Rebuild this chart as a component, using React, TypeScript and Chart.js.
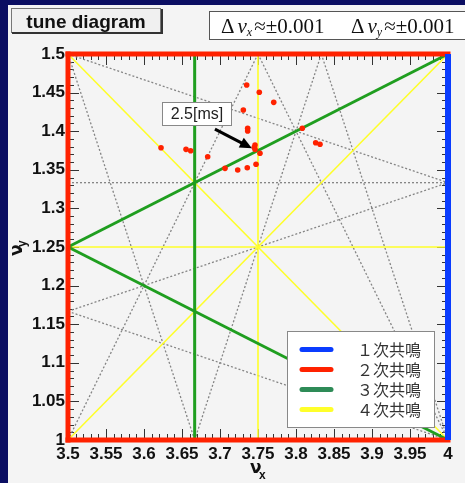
import React, { useEffect, useRef } from "react";
import { Chart, registerables } from "chart.js";

Chart.register(...registerables);

// ---- axis ranges / ticks ----
const xMin = 3.5;
const xMax = 4.0;
const yMin = 1.0;
const yMax = 1.5;
const majorStep = 0.05;
const minorDivisions = 5;

// ---- measured tunes (red dots) ----
const tuneNuX = [
  3.7351, 3.7517, 3.7707, 3.7307, 3.7364, 3.7364, 3.8083, 3.8259, 3.8316, 3.6224,
  3.6553, 3.6614, 3.7461, 3.7451, 3.7461, 3.7526, 3.6838, 3.7066, 3.7233, 3.7359,
  3.7474,
];
const tuneNuY = [
  1.4598, 1.4504, 1.4374, 1.4275, 1.4038, 1.4003, 1.4038, 1.3851, 1.383, 1.3786,
  1.3765, 1.3747, 1.3821, 1.3791, 1.3765, 1.3714, 1.367, 1.3519, 1.3497, 1.3527,
  1.3571,
];

// ---- resonance lines: [m, n, p] meaning m*νx + n*νy = p ----
const firstOrderLines = [[1, 0, 4]];
const secondOrderLines = [[2, 0, 7], [0, 2, 3], [0, 2, 2]];
const thirdOrderLines = [[3, 0, 11], [1, -2, 1], [1, 2, 6]];
const fourthOrderLines = [[4, 0, 15], [0, 4, 5], [2, 2, 10], [2, -2, 5]];
const otherLines = [
  [0, 3, 4], [3, 1, 12], [2, -1, 6], [1, 3, 8], [1, -3, 0],
  [1, 3, 7], [2, 1, 9], [3, -1, 10], [3, 1, 13],
];

// ---- texts ----
const legendLabels = ["１次共鳴", "２次共鳴", "３次共鳴", "４次共鳴"];
const titleText = "tune diagram";
const deltaValues = ["±0.001", "±0.001"];
const annotationText = "2.5[ms]";
const annotationTipNuX = 3.742;
const annotationTipNuY = 1.378;

// ---- colours ----
const NAVY = "#0b0e62";
const PANEL = "#f4f4f4";
const BLUE = "#0a3cff";
const RED = "#ff2200";
const GREEN = "#1f9e1f";
const LEGEND_GREEN = "#2e8b57";
const YELLOW = "#ffff2a";
const GRAY = "#858585";

function segment(line: number[]) {
  const [m, n, p] = line;
  const eps = 1e-9;
  const pts: { x: number; y: number }[] = [];
  if (n !== 0) {
    for (const x of [xMin, xMax]) {
      const y = (p - m * x) / n;
      if (y >= yMin - eps && y <= yMax + eps) pts.push({ x, y });
    }
  }
  if (m !== 0) {
    for (const y of [yMin, yMax]) {
      const x = (p - n * y) / m;
      if (x >= xMin - eps && x <= xMax + eps) pts.push({ x, y });
    }
  }
  const uniq: { x: number; y: number }[] = [];
  for (const q of pts) {
    if (!uniq.some((u) => Math.abs(u.x - q.x) < 1e-6 && Math.abs(u.y - q.y) < 1e-6)) uniq.push(q);
  }
  uniq.sort((a, b) => a.x - b.x || a.y - b.y);
  return [uniq[0], uniq[uniq.length - 1]];
}

function lineDatasets(lines: number[][], color: string, width: number, order: number, extra: any = {}) {
  return lines.map((l) => ({
    data: segment(l),
    showLine: true,
    borderColor: color,
    borderWidth: width,
    pointRadius: 0,
    pointHoverRadius: 0,
    fill: false,
    order,
    clip: false,
    ...extra,
  }));
}

const decorPlugin = {
  id: "decor",
  beforeDraw(chart: any) {
    const ctx = chart.ctx;
    ctx.save();
    ctx.fillStyle = NAVY;
    ctx.fillRect(0, 0, chart.width, chart.height);
    ctx.fillStyle = PANEL;
    ctx.fillRect(8, 5, chart.width - 8, chart.height - 5);
    ctx.restore();
  },
  beforeDatasetsDraw(chart: any) {
    const ctx = chart.ctx;
    const xs = chart.scales.x;
    const ys = chart.scales.y;
    const a = chart.chartArea;
    const minor = majorStep / minorDivisions;
    ctx.save();
    ctx.strokeStyle = "#333";
    ctx.lineWidth = 1;
    ctx.beginPath();
    const nx = Math.round((xMax - xMin) / minor);
    for (let i = 0; i <= nx; i++) {
      const px = Math.round(xs.getPixelForValue(xMin + i * minor)) + 0.5;
      const len = i % minorDivisions === 0 ? 11 : 6;
      ctx.moveTo(px, a.bottom);
      ctx.lineTo(px, a.bottom - len);
      ctx.moveTo(px, a.top);
      ctx.lineTo(px, a.top + len);
    }
    const ny = Math.round((yMax - yMin) / minor);
    for (let i = 0; i <= ny; i++) {
      const py = Math.round(ys.getPixelForValue(yMin + i * minor)) + 0.5;
      const len = i % minorDivisions === 0 ? 11 : 6;
      ctx.moveTo(a.left, py);
      ctx.lineTo(a.left + len, py);
      ctx.moveTo(a.right, py);
      ctx.lineTo(a.right - len, py);
    }
    ctx.stroke();
    ctx.restore();
  },
  afterDraw(chart: any) {
    const ctx = chart.ctx;
    const xs = chart.scales.x;
    const ys = chart.scales.y;
    const a = chart.chartArea;
    ctx.save();

    // title box
    ctx.fillStyle = "#f0f0f0";
    ctx.fillRect(11, 8, 150, 25);
    ctx.strokeStyle = "#777";
    ctx.lineWidth = 1;
    ctx.strokeRect(11.5, 8.5, 149, 24);
    ctx.strokeStyle = "#333";
    ctx.lineWidth = 2;
    ctx.beginPath();
    ctx.moveTo(12, 33);
    ctx.lineTo(162, 33);
    ctx.lineTo(162, 9);
    ctx.stroke();
    ctx.fillStyle = "#111";
    ctx.font = "bold 19px 'Liberation Sans', Arial, sans-serif";
    ctx.textAlign = "center";
    ctx.textBaseline = "alphabetic";
    ctx.fillText(titleText, 86, 28);

    // delta box
    ctx.fillStyle = "#ffffff";
    ctx.fillRect(209, 11, 270, 29);
    ctx.strokeStyle = "#555";
    ctx.lineWidth = 1;
    ctx.strokeRect(209.5, 11.5, 270, 28);
    ctx.fillStyle = "#111";
    ctx.textAlign = "left";
    const subs = ["x", "y"];
    const starts = [221, 351];
    for (let k = 0; k < 2; k++) {
      let x = starts[k];
      const base = 33;
      ctx.font = "21px 'Liberation Serif', 'Times New Roman', serif";
      ctx.fillText("Δ", x, base);
      x += ctx.measureText("Δ").width + 3;
      ctx.font = "italic 21px 'Liberation Serif', 'Times New Roman', serif";
      ctx.fillText("ν", x, base);
      x += ctx.measureText("ν").width;
      ctx.font = "italic 12px 'Liberation Serif', 'Times New Roman', serif";
      ctx.fillText(subs[k], x, base + 3);
      x += ctx.measureText(subs[k]).width + 2;
      ctx.font = "21px 'Liberation Serif', 'Times New Roman', serif";
      ctx.fillText("≈" + deltaValues[k], x, base);
    }

    // legend
    ctx.fillStyle = "#ffffff";
    ctx.fillRect(287, 331, 147, 96);
    ctx.strokeStyle = "#888";
    ctx.lineWidth = 1;
    ctx.strokeRect(287.5, 331.5, 147, 96);
    const legendColors = [BLUE, RED, LEGEND_GREEN, YELLOW];
    ctx.font = "16px 'Noto Sans CJK JP', sans-serif";
    ctx.textAlign = "right";
    ctx.textBaseline = "middle";
    for (let i = 0; i < legendLabels.length; i++) {
      const y = 349.5 + i * 20;
      ctx.strokeStyle = legendColors[i];
      ctx.lineWidth = 5;
      ctx.lineCap = "round";
      ctx.beginPath();
      ctx.moveTo(302, y);
      ctx.lineTo(331, y);
      ctx.stroke();
      ctx.fillStyle = "#333";
      ctx.fillText(legendLabels[i], 421, y);
    }
    ctx.lineCap = "butt";

    // annotation
    const tx = xs.getPixelForValue(annotationTipNuX);
    const ty = ys.getPixelForValue(annotationTipNuY);
    const bx = tx - 90;
    const by = ty - 46;
    ctx.fillStyle = "#ffffff";
    ctx.fillRect(bx, by, 69, 23);
    ctx.strokeStyle = "#888";
    ctx.lineWidth = 1;
    ctx.strokeRect(Math.round(bx) + 0.5, Math.round(by) + 0.5, 69, 23);
    ctx.fillStyle = "#222";
    ctx.font = "16px 'Liberation Sans', Arial, sans-serif";
    ctx.textAlign = "center";
    ctx.textBaseline = "middle";
    ctx.fillText(annotationText, bx + 35, by + 12.5);
    const sx = tx - 37;
    const sy = ty - 19;
    const ang = Math.atan2(ty - sy, tx - sx);
    const hl = 12;
    const hw = 5.5;
    ctx.strokeStyle = "#000";
    ctx.fillStyle = "#000";
    ctx.lineWidth = 3;
    ctx.beginPath();
    ctx.moveTo(sx, sy);
    ctx.lineTo(tx - Math.cos(ang) * hl * 0.8, ty - Math.sin(ang) * hl * 0.8);
    ctx.stroke();
    ctx.beginPath();
    ctx.moveTo(tx, ty);
    ctx.lineTo(tx - Math.cos(ang) * hl - Math.sin(ang) * hw, ty - Math.sin(ang) * hl + Math.cos(ang) * hw);
    ctx.lineTo(tx - Math.cos(ang) * hl + Math.sin(ang) * hw, ty - Math.sin(ang) * hl - Math.cos(ang) * hw);
    ctx.closePath();
    ctx.fill();

    // axis titles
    ctx.fillStyle = "#111";
    ctx.textAlign = "left";
    ctx.textBaseline = "alphabetic";
    const cx = (a.left + a.right) / 2;
    ctx.font = "bold 17px 'DejaVu Sans', sans-serif";
    ctx.fillText("ν", cx - 8, 473);
    ctx.font = "bold 12px 'Liberation Sans', Arial, sans-serif";
    ctx.fillText("x", cx + 1, 479);
    const cy = (a.top + a.bottom) / 2;
    ctx.translate(22, cy + 9);
    ctx.rotate(-Math.PI / 2);
    ctx.font = "bold 17px 'DejaVu Sans', sans-serif";
    ctx.fillText("ν", 0, 0);
    ctx.font = "bold 12px 'Liberation Sans', Arial, sans-serif";
    ctx.fillText("y", 9, 4);
    ctx.restore();
  },
};

function fmt(v: number) {
  return String(Number(Number(v).toFixed(2)));
}

export default function App() {
  const ref = useRef<HTMLCanvasElement | null>(null);
  useEffect(() => {
    if (!ref.current) return;
    const tunePoints = tuneNuX.map((x, i) => ({ x, y: tuneNuY[i] }));
    const datasets: any[] = [
      {
        data: tunePoints,
        pointRadius: 2.8,
        pointBackgroundColor: RED,
        pointBorderWidth: 0,
        showLine: false,
        order: 0,
        clip: false,
      },
      ...lineDatasets(firstOrderLines, BLUE, 6, 1),
      ...lineDatasets(secondOrderLines, RED, 5, 2, { borderCapStyle: "square" }),
      ...lineDatasets(thirdOrderLines, GREEN, 3, 3),
      ...lineDatasets(fourthOrderLines, YELLOW, 1.6, 4),
      ...lineDatasets(otherLines, GRAY, 1.3, 5, { borderDash: [2, 2] }),
    ];
    const tickFont = { family: "'Liberation Sans', Arial, sans-serif", size: 17, weight: "bold" as const };
    const chart = new Chart(ref.current, {
      type: "scatter",
      data: { datasets },
      options: {
        animation: false,
        responsive: false,
        devicePixelRatio: 1,
        events: [],
        layout: { padding: { left: 0, top: 54, right: 17, bottom: 0 } },
        plugins: { legend: { display: false }, tooltip: { enabled: false }, title: { display: false } },
        scales: {
          x: {
            type: "linear",
            min: xMin,
            max: xMax,
            grid: { display: false, drawTicks: false },
            border: { display: false },
            ticks: {
              stepSize: majorStep,
              autoSkip: false,
              maxRotation: 0,
              padding: 4,
              color: "#111",
              font: tickFont,
              callback: (v: any) => fmt(v),
            },
            afterFit: (s: any) => {
              s.height = 43;
            },
          },
          y: {
            type: "linear",
            min: yMin,
            max: yMax,
            grid: { display: false, drawTicks: false },
            border: { display: false },
            ticks: {
              stepSize: majorStep,
              autoSkip: false,
              padding: 3,
              color: "#111",
              font: tickFont,
              callback: (v: any) => fmt(v),
            },
            afterFit: (s: any) => {
              s.width = 68;
            },
          },
        },
      },
      plugins: [decorPlugin],
    });
    return () => chart.destroy();
  }, []);
  return (
    <div style={{ position: "fixed", left: 0, top: 0, width: 465, height: 483, background: NAVY }}>
      <canvas ref={ref} width={465} height={483} style={{ width: 465, height: 483, display: "block" }} />
    </div>
  );
}
